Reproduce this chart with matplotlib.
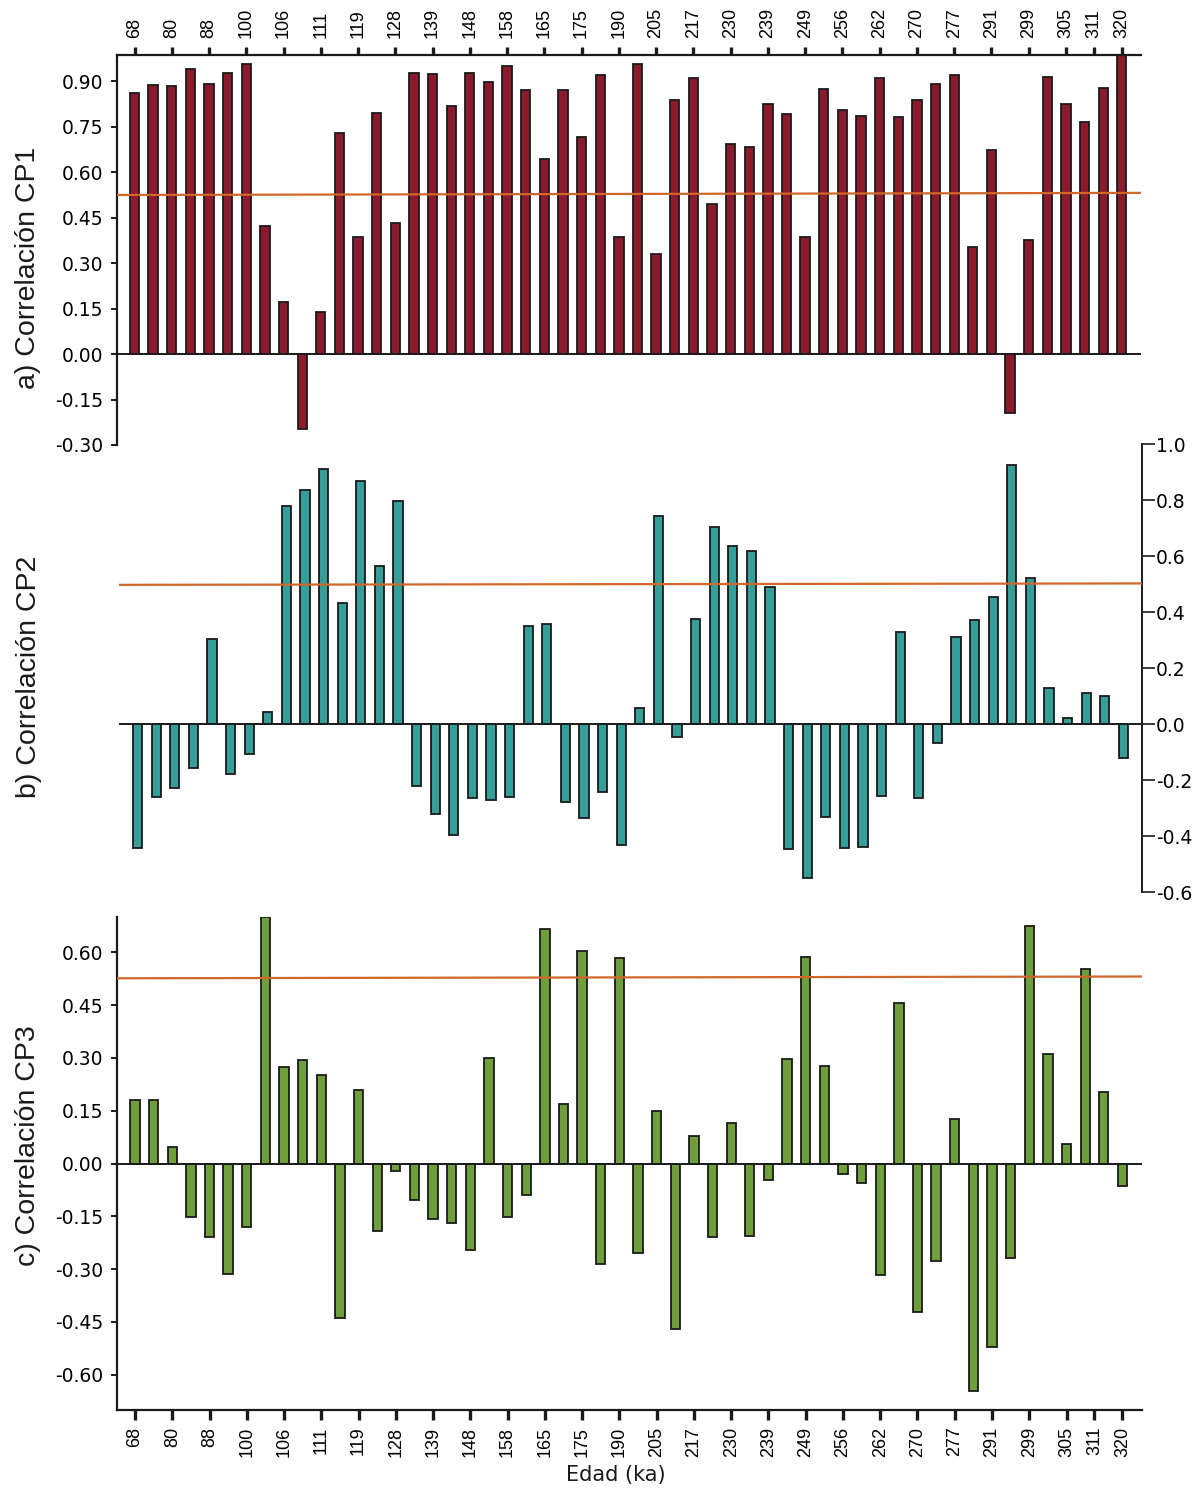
import matplotlib
matplotlib.use("Agg")
import matplotlib.pyplot as plt
import numpy as np

plt.rcParams['axes.unicode_minus'] = False

# Age labels (ka) shown on the shared x axis
age_labels = ['68', '80', '88', '100', '106', '111', '119', '128', '139', '148',
              '158', '165', '175', '190', '205', '217', '230', '239', '249', '256',
              '262', '270', '277', '291', '299', '305', '311', '320']

# Correlation of each sample with the principal components
cp1 = [0.863, 0.889, 0.886, 0.942, 0.891, 0.929, 0.957, 0.422, 0.173, -0.248,
       0.140, 0.729, 0.385, 0.797, 0.433, 0.929, 0.925, 0.820, 0.929, 0.897,
       0.950, 0.873, 0.645, 0.872, 0.716, 0.920, 0.386, 0.956, 0.329, 0.838,
       0.910, 0.495, 0.693, 0.684, 0.824, 0.793, 0.388, 0.874, 0.804, 0.787,
       0.910, 0.781, 0.839, 0.892, 0.920, 0.354, 0.675, -0.196, 0.375, 0.914,
       0.825, 0.766, 0.879, 0.99]

cp2 = [-0.443, -0.260, -0.229, -0.158, 0.304, -0.179, -0.106, 0.044, 0.779, 0.834,
       0.912, 0.431, 0.867, 0.566, 0.796, -0.220, -0.321, -0.398, -0.264, -0.273,
       -0.260, 0.350, 0.357, -0.277, -0.335, -0.243, -0.432, 0.056, 0.742, -0.045,
       0.376, 0.705, 0.634, 0.617, 0.489, -0.448, -0.549, -0.333, -0.442, -0.439,
       -0.258, 0.329, -0.264, -0.069, 0.312, 0.372, 0.455, 0.924, 0.521, 0.129,
       0.021, 0.109, 0.099, -0.121]

cp3 = [0.180, 0.180, 0.047, -0.153, -0.210, -0.314, -0.180, 0.70, 0.273, 0.294,
       0.252, -0.440, 0.208, -0.191, -0.021, -0.104, -0.157, -0.170, -0.247, 0.299,
       -0.152, -0.089, 0.665, 0.168, 0.603, -0.286, 0.584, -0.253, 0.149, -0.471,
       0.077, -0.209, 0.115, -0.205, -0.048, 0.296, 0.585, 0.277, -0.029, -0.056,
       -0.318, 0.457, -0.423, -0.277, 0.126, -0.646, -0.520, -0.267, 0.674, 0.312,
       0.056, 0.553, 0.202, -0.064]

# Significance thresholds (start, end)
thr1 = [0.525, 0.532]
thr2 = [0.497, 0.502]
thr3 = [0.526, 0.531]

W, H = 1199, 1489
fig = plt.figure(figsize=(W / 100, H / 100), dpi=100)

def rect(x0, y0, x1, y1):
    return [x0 / W, 1 - y1 / H, (x1 - x0) / W, (y1 - y0) / H]

INK = '#1a1a1a'
ORANGE = '#d2672a'
TICKFONT = 'DejaVu Sans'
LABFONT = 'Liberation Sans'

n = len(cp1)
x = np.arange(n)
tick_pos = list(range(0, 52, 2)) + [51.5, 53]
bar_w = 0.5


def draw_bars(ax, vals, color, thr, xlim):
    ax.bar(x, vals, width=bar_w, color=color, edgecolor=INK, linewidth=1.3, zorder=2)
    ax.axhline(0, color=INK, lw=1.4, zorder=3)
    ax.plot(xlim, thr, color=ORANGE, lw=1.6, zorder=4, solid_capstyle='butt')
    ax.set_xlim(*xlim)
    for s in ax.spines.values():
        s.set_visible(False)
        s.set_color(INK)
        s.set_linewidth(1.6)
    ax.set_facecolor('none')


# ---- a) CP1 ----
xa = (-0.94, 54.03)
ax1 = fig.add_axes(rect(117, 55, 1141, 445))
draw_bars(ax1, cp1, '#8c1a2d', thr1, xa)
ax1.set_ylim(-0.30, 0.987)
ax1.spines['left'].set_visible(True)
ax1.spines['top'].set_visible(True)
ax1.set_yticks(np.arange(-0.30, 0.91, 0.15))
ax1.set_yticklabels([f'{v:.2f}' if abs(v) > 1e-9 else '0.00' for v in np.arange(-0.30, 0.91, 0.15)],
                    family=TICKFONT, fontsize=13.5)
ax1.tick_params(axis='y', direction='out', length=4, width=1.4, color=INK, pad=6)
ax1.xaxis.tick_top()
ax1.set_xticks(tick_pos)
ax1.set_xticklabels(age_labels, rotation=90, family=LABFONT, fontsize=13)
ax1.tick_params(axis='x', direction='out', length=6, width=2.4, color=INK, pad=6)

# ---- b) CP2 ----
xb = (-1.0, 54.0)
ax2 = fig.add_axes(rect(119, 444, 1142, 892))
draw_bars(ax2, cp2, '#369e98', thr2, xb)
ax2.set_ylim(-0.6, 1.0)
ax2.spines['right'].set_visible(True)
ax2.spines['right'].set_linewidth(1.4)
ax2.yaxis.tick_right()
ax2.set_yticks(np.arange(-0.6, 1.01, 0.2))
ax2.set_yticklabels([f'{v:.1f}' if abs(v) > 1e-9 else '0.0' for v in np.arange(-0.6, 1.01, 0.2)],
                    family=TICKFONT, fontsize=13.5)
ax2.tick_params(axis='y', direction='out', length=9, width=1.2, color=INK, pad=1)
ax2.set_xticks([])

# ---- c) CP3 ----
xc = (-0.966, 54.05)
ax3 = fig.add_axes(rect(117, 917, 1142, 1410))
draw_bars(ax3, cp3, '#6f9f3a', thr3, xc)
ax3.set_ylim(-0.70, 0.70)
ax3.spines['left'].set_visible(True)
ax3.spines['bottom'].set_visible(True)
ax3.set_yticks(np.arange(-0.60, 0.61, 0.15))
ax3.set_yticklabels([f'{v:.2f}' if abs(v) > 1e-9 else '0.00' for v in np.arange(-0.60, 0.61, 0.15)],
                    family=TICKFONT, fontsize=13.5)
ax3.tick_params(axis='y', direction='out', length=4, width=1.4, color=INK, pad=6)
ax3.set_xticks(tick_pos)
ax3.set_xticklabels(age_labels, rotation=90, family=LABFONT, fontsize=13)
ax3.tick_params(axis='x', direction='out', length=7, width=2.4, color=INK, pad=5)

# Panel labels
for (cx, cy), txt in [((28, 268), 'a) Correlación CP1'),
                      ((29, 677), 'b) Correlación CP2'),
                      ((28, 1146), 'c) Correlación CP3')]:
    fig.text(cx / W, 1 - cy / H, txt, rotation=90, ha='center', va='center',
             family=LABFONT, fontsize=20.5, color=INK)

fig.text(616 / W, 1 - 1475 / H, 'Edad (ka)', ha='center', va='center',
         family=TICKFONT, fontsize=15, color=INK)

fig.savefig('out.png', dpi=100)
